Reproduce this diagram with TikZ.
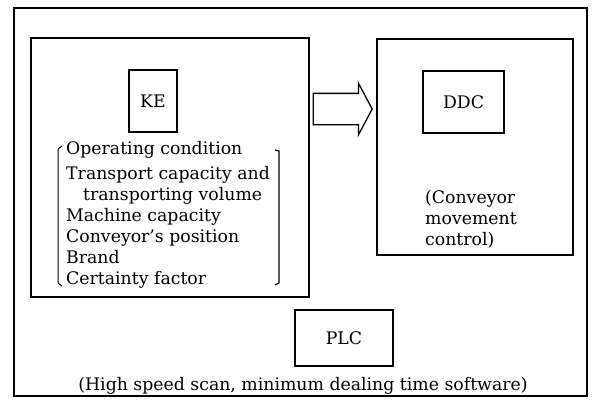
\documentclass[tikz,border=0pt]{standalone}
\usepackage{fontspec}
\setmainfont{DejaVu Serif}
\usetikzlibrary{shapes.arrows}

\tikzset{
  box/.style={draw=black, line width=1.3pt, inner sep=0pt},
  txt/.style={font=\fontsize{17.3}{21}\selectfont, inner sep=0pt}
}

\begin{document}
\begin{tikzpicture}[x=1pt, y=-1pt]
	\useasboundingbox (0,0) rectangle (593,407);
	\node[box, line width=1.1pt, minimum width=573, minimum height=388] (frame) at (300.5,202) {};
	\node[box, minimum width=278, minimum height=259] (kepart) at (170,167.5) {};
	\node[box, minimum width=196, minimum height=216] (ddcpart) at (475,147) {};
	\node[box, minimum width=48, minimum height=62, txt] (ke) at (153,101) {KE};
	\node[box, minimum width=81, minimum height=62, txt] (ddc) at (463.5,102) {DDC};
	\node[box, minimum width=98, minimum height=56, txt] (plc) at (344,338) {PLC};
	\node[single arrow, draw=black, line width=1.3pt, inner xsep=0pt, inner ysep=15pt, minimum height=59,
		single arrow head extend=10pt, single arrow tip angle=124] (flow) at (338.5,109) {};
	% knowledge list
	\node[txt, align=left, anchor=north west] (facts) at (66,141)
		{Operating condition\\[4pt]
		 Transport capacity and\\
		 \hspace*{17pt}transporting volume\\
		 Machine capacity\\
		 Conveyor's position\\
		 Brand\\
		 Certainty factor};
	\draw[line width=1pt] (62,146) -- (58,149) -- (58,283) -- (62,286);
	\draw[line width=1.3pt] (275,150) -- (279,151) -- (279,283) -- (275,285);
	\node[txt, align=left, anchor=north west] (ddcnote) at (425,190)
		{(Conveyor\\movement\\control)};
	\node[txt] (plcnote) at (303,386) {(High speed scan, minimum dealing time software)};
\end{tikzpicture}
\end{document}
